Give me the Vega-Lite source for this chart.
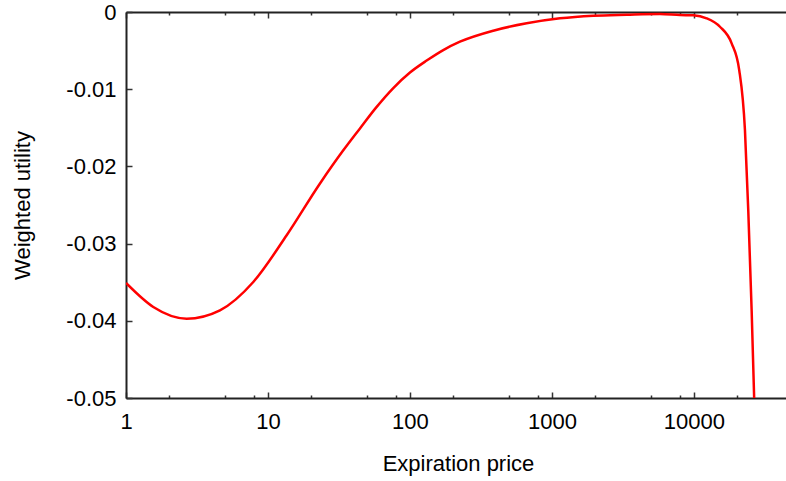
{
  "$schema": "https://vega.github.io/schema/vega-lite/v6.json",
  "autosize": {"type": "none"},
  "padding": {"left": 126, "top": 12, "right": 0, "bottom": 83},
  "width": 660,
  "height": 386,
  "background": "white",
  "config": {
    "view": {"stroke": null},
    "axis": {
      "labelFont": "Liberation Sans",
      "titleFont": "Liberation Sans",
      "labelFontSize": 22,
      "titleFontSize": 22,
      "labelColor": "#000000",
      "titleColor": "#000000",
      "titleFontWeight": "normal",
      "domainColor": "#222222",
      "domainWidth": 2,
      "tickColor": "#333333",
      "tickWidth": 1.5,
      "grid": false
    }
  },
  "data": {
    "values": [
      {"price": 1, "utility": -0.0351},
      {"price": 1.557, "utility": -0.03821},
      {"price": 2.676, "utility": -0.03972},
      {"price": 4.59, "utility": -0.03864},
      {"price": 7.88, "utility": -0.03497},
      {"price": 13.54, "utility": -0.02892},
      {"price": 23.24, "utility": -0.02221},
      {"price": 33.91, "utility": -0.01792},
      {"price": 44.45, "utility": -0.01508},
      {"price": 57.5, "utility": -0.01242},
      {"price": 76.3, "utility": -0.00985},
      {"price": 100, "utility": -0.00784},
      {"price": 131.1, "utility": -0.00629},
      {"price": 171.6, "utility": -0.00493},
      {"price": 224.9, "utility": -0.00385},
      {"price": 386.0, "utility": -0.00242},
      {"price": 663.3, "utility": -0.00147},
      {"price": 1138, "utility": -0.00082},
      {"price": 1954, "utility": -0.00048},
      {"price": 3357, "utility": -0.00035},
      {"price": 5763, "utility": -0.00026},
      {"price": 7969, "utility": -0.00039},
      {"price": 9888, "utility": -0.00043},
      {"price": 12285, "utility": -0.00082},
      {"price": 15245, "utility": -0.00191},
      {"price": 18430, "utility": -0.00406},
      {"price": 20840, "utility": -0.00752},
      {"price": 22870, "utility": -0.0153},
      {"price": 24130, "utility": -0.02567},
      {"price": 25490, "utility": -0.03864},
      {"price": 27340, "utility": -0.0581}
    ]
  },
  "resolve": {"axis": {"x": "independent", "y": "independent"}},
  "layer": [
    {
      "mark": {"type": "line", "color": "#ff0000", "strokeWidth": 2.5, "clip": true, "interpolate": "monotone"},
      "encoding": {
        "x": {
          "field": "price", "type": "quantitative",
          "scale": {"type": "log", "domain": [1, 44500], "nice": false},
          "axis": {
            "orient": "bottom",
            "title": "Expiration price",
            "values": [1, 2, 5, 8, 10, 20, 50, 80, 100, 200, 500, 800, 1000, 2000, 5000, 8000, 10000, 20000],
            "labelExpr": "indexof([1,10,100,1000,10000], datum.value) >= 0 ? format(datum.value, 'd') : ''",
            "tickSize": {"condition": {"test": "indexof([1,10,100,1000,10000], datum.value) >= 0", "value": -6}, "value": -3},
            "labelPadding": 19,
            "labelFlush": false,
            "labelOverlap": false,
            "titleBaseline": "alphabetic",
            "titleX": 332,
            "titleY": 72,
            "titleAnchor": "middle",
            "titleAlign": "center"
          }
        },
        "y": {
          "field": "utility", "type": "quantitative",
          "scale": {"domain": [-0.05, 0], "nice": false, "zero": false},
          "axis": {
            "orient": "left",
            "title": "Weighted utility",
            "values": [0, -0.01, -0.02, -0.03, -0.04, -0.05],
            "labelExpr": "datum.value == 0 ? '0' : '-' + format(-datum.value, '.2f')",
            "tickSize": -6,
            "labelPadding": 16,
            "labelFlush": false,
            "labelOverlap": false,
            "titleAngle": -90,
            "titleBaseline": "alphabetic",
            "titleX": -97,
            "titleY": 193,
            "titleAlign": "center",
            "titleAnchor": "middle"
          }
        }
      }
    },
    {
      "mark": {"type": "line", "opacity": 0, "clip": true},
      "encoding": {
        "x": {
          "field": "price", "type": "quantitative",
          "scale": {"type": "log", "domain": [1, 44500], "nice": false},
          "axis": {
            "orient": "top",
            "title": null,
            "labels": false,
            "values": [1, 2, 5, 8, 10, 20, 50, 80, 100, 200, 500, 800, 1000, 2000, 5000, 8000, 10000, 20000],
            "tickSize": {"condition": {"test": "indexof([1,10,100,1000,10000], datum.value) >= 0", "value": -6}, "value": -3}
          }
        },
        "y": {
          "field": "utility", "type": "quantitative",
          "scale": {"domain": [-0.05, 0], "nice": false, "zero": false},
          "axis": null
        }
      }
    }
  ]
}
